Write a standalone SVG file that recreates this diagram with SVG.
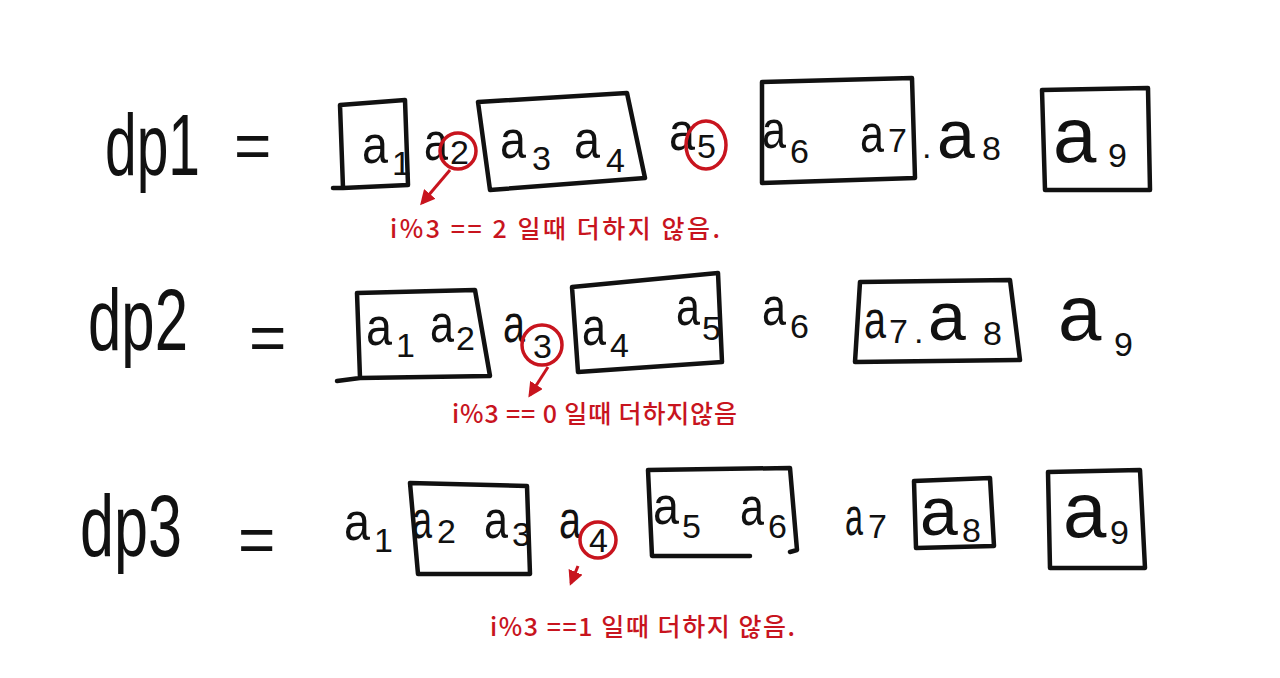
<svg xmlns="http://www.w3.org/2000/svg" width="1280" height="678" viewBox="0 0 1280 678">
<style>
.big{font-family:"Liberation Sans","DejaVu Sans",sans-serif;font-size:88px;fill:#111}
.eq{font-family:"Liberation Sans","DejaVu Sans",sans-serif;font-size:64px;fill:#111}
.a{font-family:"Liberation Sans","DejaVu Sans",sans-serif;font-size:54px;fill:#111}
.A{font-family:"Liberation Sans","DejaVu Sans",sans-serif;font-size:68px;fill:#111}
.AA{font-family:"Liberation Sans","DejaVu Sans",sans-serif;font-size:78px;fill:#111}
.s{font-family:"Liberation Sans","DejaVu Sans",sans-serif;font-size:34px;fill:#111}
.box{fill:none;stroke:#111;stroke-width:4.5;stroke-linejoin:round;stroke-linecap:round}
.rc{fill:none;stroke:#c8141e;stroke-width:3.5}
.ra{fill:none;stroke:#c8141e;stroke-width:3}
.rt{font-family:"Noto Sans CJK KR","Noto Sans",sans-serif;font-size:25px;font-weight:500;fill:#c8141e}
</style>
<defs>
<marker id="ah" viewBox="0 0 10 10" refX="8" refY="5" markerWidth="5" markerHeight="5" orient="auto">
<path d="M0,0 L10,5 L0,10 Z" fill="#c8141e"/>
</marker>
</defs>
<rect width="1280" height="678" fill="#fff"/>

<g id="row1">
<text class="big" x="105" y="175" textLength="95" lengthAdjust="spacingAndGlyphs">dp1</text>
<text class="eq" x="234" y="168">=</text>
<path class="box" d="M340,105 L405,100 L408,185 L343,188 Z M333,188 L343,188"/>
<text class="a" x="362" y="163" textLength="26" lengthAdjust="spacingAndGlyphs">a</text><text class="s" x="392" y="175">1</text>
<text class="a" x="424" y="160" textLength="24" lengthAdjust="spacingAndGlyphs">a</text><text class="s" x="450" y="164">2</text>
<path class="box" d="M478,102 L627,93 L645,178 L490,190 Z"/>
<text class="a" x="500" y="158" textLength="26" lengthAdjust="spacingAndGlyphs">a</text><text class="s" x="532" y="170">3</text>
<text class="a" x="574" y="158" textLength="26" lengthAdjust="spacingAndGlyphs">a</text><text class="s" x="606" y="172">4</text>
<text class="a" x="669" y="150" textLength="26" lengthAdjust="spacingAndGlyphs">a</text><text class="s" x="697" y="158">5</text>
<path class="box" d="M762,82 L912,78 L915,178 L762,183 Z"/>
<text class="a" x="762" y="148" textLength="24" lengthAdjust="spacingAndGlyphs">a</text><text class="s" x="790" y="163">6</text>
<text class="a" x="860" y="152" textLength="24" lengthAdjust="spacingAndGlyphs">a</text><text class="s" x="888" y="152">7</text>
<text class="s" x="922" y="158">.</text>
<text class="A" x="937" y="158">a</text><text class="s" x="982" y="160">8</text>
<path class="box" d="M1042,90 L1148,88 L1150,190 L1045,190 Z"/>
<text class="AA" x="1053" y="162">a</text><text class="s" x="1108" y="167">9</text>
<circle class="rc" cx="458" cy="151" r="18"/>
<ellipse class="rc" cx="706" cy="145" rx="20" ry="24"/>
</g>

<g id="row2">
<text class="big" x="88" y="350" textLength="100" lengthAdjust="spacingAndGlyphs">dp2</text>
<text class="eq" x="249" y="360">=</text>
<path class="box" d="M357,293 L475,290 L490,376 L360,378 Z M337,381 L360,378"/>
<text class="a" x="366" y="345" textLength="26" lengthAdjust="spacingAndGlyphs">a</text><text class="s" x="396" y="357">1</text>
<text class="a" x="430" y="342" textLength="24" lengthAdjust="spacingAndGlyphs">a</text><text class="s" x="456" y="350">2</text>
<text class="a" x="503" y="342" textLength="22" lengthAdjust="spacingAndGlyphs">a</text><text class="s" x="533" y="358">3</text>
<path class="box" d="M572,287 L718,273 L722,362 L578,372 Z"/>
<text class="a" x="582" y="345" textLength="24" lengthAdjust="spacingAndGlyphs">a</text><text class="s" x="610" y="357">4</text>
<text class="a" x="676" y="325" textLength="24" lengthAdjust="spacingAndGlyphs">a</text><text class="s" x="702" y="340">5</text>
<text class="a" x="762" y="325" textLength="24" lengthAdjust="spacingAndGlyphs">a</text><text class="s" x="790" y="338">6</text>
<path class="box" d="M860,282 L1010,280 L1020,360 L855,362 Z"/>
<text class="a" x="864" y="338" textLength="22" lengthAdjust="spacingAndGlyphs">a</text><text class="s" x="889" y="343">7</text>
<text class="s" x="914" y="343">.</text>
<text class="A" x="928" y="340">a</text><text class="s" x="983" y="345">8</text>
<text class="AA" x="1058" y="340">a</text><text class="s" x="1114" y="356">9</text>
<circle class="rc" cx="542" cy="345" r="20"/>
</g>

<g id="row3">
<text class="big" x="80" y="556" textLength="102" lengthAdjust="spacingAndGlyphs">dp3</text>
<text class="eq" x="238" y="562">=</text>
<text class="a" x="344" y="540" textLength="26" lengthAdjust="spacingAndGlyphs">a</text><text class="s" x="374" y="552">1</text>
<path class="box" d="M410,483 L527,486 L530,574 L418,574 Z"/>
<text class="a" x="412" y="538" textLength="20" lengthAdjust="spacingAndGlyphs">a</text><text class="s" x="437" y="543">2</text>
<text class="a" x="484" y="538" textLength="24" lengthAdjust="spacingAndGlyphs">a</text><text class="s" x="512" y="546">3</text>
<text class="a" x="559" y="538" textLength="22" lengthAdjust="spacingAndGlyphs">a</text><text class="s" x="589" y="552">4</text>
<path class="box" d="M648,470 L790,468 L797,550 L790,552 M750,556 L652,556 L648,470"/>
<text class="a" x="653" y="524" textLength="26" lengthAdjust="spacingAndGlyphs">a</text><text class="s" x="682" y="538">5</text>
<text class="a" x="740" y="525" textLength="24" lengthAdjust="spacingAndGlyphs">a</text><text class="s" x="768" y="538">6</text>
<text class="a" x="845" y="535" textLength="18" lengthAdjust="spacingAndGlyphs">a</text><text class="s" x="868" y="538">7</text>
<path class="box" d="M914,481 L990,478 L994,546 L916,548 Z"/>
<text class="A" x="920" y="535">a</text><text class="s" x="962" y="542">8</text>
<path class="box" d="M1048,472 L1140,470 L1145,568 L1050,568 Z"/>
<text class="AA" x="1063" y="537">a</text><text class="s" x="1110" y="544">9</text>
<circle class="rc" cx="598" cy="540" r="18"/>
</g>

<g id="connectors">
<path class="ra" d="M450,170 L422,203" marker-end="url(#ah)"/>
<path class="ra" d="M548,367 L530,395" marker-end="url(#ah)"/>
<path class="ra" d="M578,566 L571,583" marker-end="url(#ah)"/>
</g>

<g id="notes">
<text class="rt" x="390" y="238" textLength="330">i%3 == 2 일때 더하지 않음.</text>
<text class="rt" x="452" y="423" textLength="285">i%3 == 0 일때 더하지않음</text>
<text class="rt" x="490" y="636" textLength="305">i%3 ==1 일때 더하지 않음.</text>
</g>
</svg>
